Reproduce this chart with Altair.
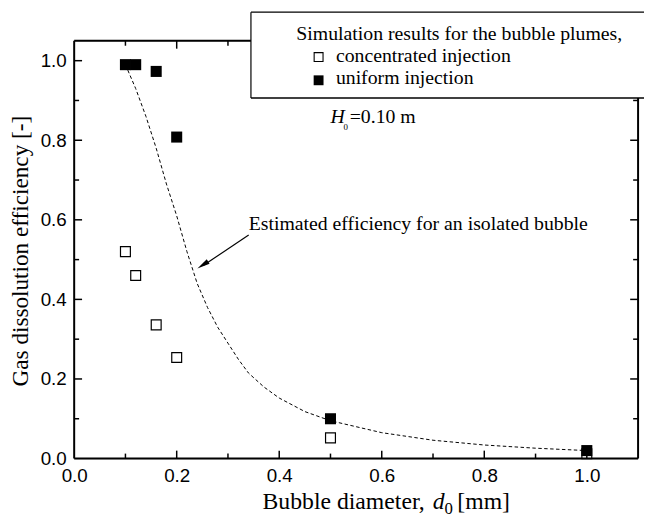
import altair as alt
import pandas as pd

# ---------------- data ----------------
d_conc = [0.10, 0.12, 0.16, 0.20, 0.50, 1.00]
eff_conc = [0.52, 0.46, 0.336, 0.254, 0.052, 0.012]

d_unif = [0.10, 0.12, 0.16, 0.20, 0.50, 1.00]
eff_unif = [0.99, 0.99, 0.973, 0.808, 0.100, 0.020]

d_curve = [0.10, 0.12, 0.14, 0.16, 0.18, 0.20, 0.22, 0.24, 0.26, 0.28, 0.30,
           0.32, 0.34, 0.37, 0.40, 0.45, 0.50, 0.60, 0.70, 0.80, 0.90, 1.00]
eff_curve = [0.99, 0.93, 0.86, 0.78, 0.69, 0.61, 0.52, 0.44, 0.38, 0.33, 0.29,
             0.25, 0.215, 0.18, 0.152, 0.118, 0.095, 0.065, 0.046, 0.034, 0.026, 0.020]

x_label_values = [0.0, 0.2, 0.4, 0.6, 0.8, 1.0]
y_label_values = [0.0, 0.2, 0.4, 0.6, 0.8, 1.0]
x_major = [0.2, 0.4, 0.6, 0.8, 1.0]
x_minor = [0.1, 0.3, 0.5, 0.7, 0.9]
y_major = [0.2, 0.4, 0.6, 0.8, 1.0]
y_minor = [0.1, 0.3, 0.5, 0.7, 0.9]

x_title = "Bubble diameter,"
y_title = "Gas dissolution efficiency [-]"
legend_head = "Simulation results for the bubble plumes,"
legend_conc = "concentrated injection"
legend_unif = "uniform injection"
annot_text = "Estimated efficiency for an isolated bubble"
annot_pos = (0.3404, 0.5746)
arrow_from = (0.3404, 0.562)
arrow_to = (0.2404, 0.4776)
h0_pos = (0.500, 0.8433)

# ---------------- layout ----------------
W, H = 571, 423
SERIF = "Liberation Serif"
SANS = "Liberation Sans"

xs = alt.Scale(domain=[0, 1.1], nice=False, zero=False)
ys = alt.Scale(domain=[0, 1.05], nice=False, zero=False)

one = pd.DataFrame({"k": [0]})

x_axis = alt.Axis(values=x_label_values, format=".1f", ticks=False, tickSize=0, domain=False,
                  grid=False, labelFont=SANS, labelFontSize=19, labelColor="black",
                  labelPadding=8, labelFlush=False, title=None)
y_axis = alt.Axis(values=y_label_values, format=".1f", ticks=False, tickSize=0, domain=False,
                  grid=False, labelFont=SANS, labelFontSize=19, labelColor="black",
                  labelPadding=8, labelFlush=False, title=None)

# curve (carries the axes)
curve_df = pd.DataFrame({"d": d_curve, "e": eff_curve})
curve = alt.Chart(curve_df).mark_line(color="black", strokeWidth=1, strokeDash=[3.5, 2.5]).encode(
    x=alt.X("d:Q", scale=xs, axis=x_axis),
    y=alt.Y("e:Q", scale=ys, axis=y_axis),
    order="d:Q",
)

# frame
def rule_px(w=2, **enc):
    return alt.Chart(one).mark_rule(color="black", strokeWidth=w).encode(**enc)

frame = [
    rule_px(x=alt.value(0), x2=alt.value(W), y=alt.value(0)),
    rule_px(x=alt.value(0), x2=alt.value(W), y=alt.value(H)),
    rule_px(x=alt.value(0), y=alt.value(0), y2=alt.value(H)),
    rule_px(x=alt.value(W), y=alt.value(0), y2=alt.value(H)),
]

# inward ticks
def xticks(vals, ln):
    df = pd.DataFrame({"v": vals})
    b = alt.Chart(df).mark_rule(color="black", strokeWidth=1.5).encode(
        x=alt.X("v:Q", scale=xs), y=alt.value(H), y2=alt.value(H - ln))
    t = alt.Chart(df).mark_rule(color="black", strokeWidth=1.5).encode(
        x=alt.X("v:Q", scale=xs), y=alt.value(0), y2=alt.value(ln))
    return [b, t]

def yticks(vals, ln):
    df = pd.DataFrame({"v": vals})
    l = alt.Chart(df).mark_rule(color="black", strokeWidth=1.5).encode(
        y=alt.Y("v:Q", scale=ys), x=alt.value(0), x2=alt.value(ln))
    r = alt.Chart(df).mark_rule(color="black", strokeWidth=1.5).encode(
        y=alt.Y("v:Q", scale=ys), x=alt.value(W), x2=alt.value(W - ln))
    return [l, r]

ticks = xticks(x_major, 8) + xticks(x_minor, 5) + yticks(y_major, 8) + yticks(y_minor, 5)

# data points
conc_df = pd.DataFrame({"d": d_conc, "e": eff_conc})
unif_df = pd.DataFrame({"d": d_unif, "e": eff_unif})
conc = alt.Chart(conc_df).mark_point(shape="square", filled=False, size=100, strokeWidth=1.2,
                                     color="black", opacity=1).encode(
    x=alt.X("d:Q", scale=xs), y=alt.Y("e:Q", scale=ys))
unif = alt.Chart(unif_df).mark_point(shape="square", filled=True, size=125,
                                     color="black", opacity=1).encode(
    x=alt.X("d:Q", scale=xs), y=alt.Y("e:Q", scale=ys))

# arrow
arrow_line = alt.Chart(one).mark_rule(color="black", strokeWidth=1.2).encode(
    x=alt.datum(arrow_from[0], scale=xs), y=alt.datum(arrow_from[1], scale=ys),
    x2=alt.datum(arrow_to[0] + 0.012), y2=alt.datum(arrow_to[1] + 0.008))
arrow_head = alt.Chart(one).mark_point(shape="M0,0 L0.4,2 L-0.4,2 Z", filled=True, size=169,
                                       angle=236.8, color="black", opacity=1).encode(
    x=alt.datum(arrow_to[0], scale=xs), y=alt.datum(arrow_to[1], scale=ys))

# text helpers
def txt_data(text, x, y, size, align="left", baseline="alphabetic", font=SERIF, style="normal", angle=0):
    return alt.Chart(one).mark_text(text=text, font=font, fontSize=size, fontStyle=style, align=align,
                                    baseline=baseline, color="black", angle=angle).encode(
        x=alt.datum(x, scale=xs), y=alt.datum(y, scale=ys))

def txt_px(text, x, y, size, align="left", baseline="alphabetic", font=SERIF, style="normal", angle=0):
    return alt.Chart(one).mark_text(text=text, font=font, fontSize=size, fontStyle=style, align=align,
                                    baseline=baseline, color="black", angle=angle).encode(
        x=alt.value(x), y=alt.value(y))

annot = txt_data(annot_text, annot_pos[0], annot_pos[1], 20)
h0 = [
    txt_data("H", h0_pos[0], h0_pos[1], 20, style="italic"),
    txt_data("0", h0_pos[0] + 0.0255, h0_pos[1] - 0.0174, 9),
    txt_data("=0.10 m", h0_pos[0] + 0.0375, h0_pos[1], 20),
]

titles = [
    txt_px(x_title, 355, 474, 24, align="right"),
    txt_px("d", 363, 474, 24, style="italic"),
    txt_px("0", 375, 479, 17),
    txt_px("[mm]", 388, 474, 24),
    txt_px(y_title, -47, 213, 23.5, align="center", angle=270),
]

# legend box (open on the right: it runs off the page edge)
BX0, BX1, BY0, BY1 = 179, 577, -29, 58
box_fill = alt.Chart(one).mark_rect(fill="white", strokeWidth=0).encode(
    x=alt.value(BX0), x2=alt.value(BX1), y=alt.value(BY0), y2=alt.value(BY1))
box_lines = [
    rule_px(1.2, x=alt.value(BX0), x2=alt.value(BX1), y=alt.value(BY0)),
    rule_px(1.6, x=alt.value(BX0), x2=alt.value(BX1), y=alt.value(BY1)),
    rule_px(1.2, x=alt.value(BX0), y=alt.value(BY0), y2=alt.value(BY1)),
]
leg_open = alt.Chart(one).mark_point(shape="square", filled=False, size=81, strokeWidth=1.1,
                                     color="black", opacity=1).encode(
    x=alt.value(247.5), y=alt.value(16.5))
leg_fill = alt.Chart(one).mark_point(shape="square", filled=True, size=100,
                                     color="black", opacity=1).encode(
    x=alt.value(247.5), y=alt.value(40))
legend = [
    box_fill, *box_lines,
    txt_px(legend_head, 225, -1, 20),
    leg_open,
    txt_px(legend_conc, 265, 21.5, 20),
    leg_fill,
    txt_px(legend_unif, 265, 44, 20),
]

chart = alt.layer(
    curve, *frame, *ticks, arrow_line, arrow_head, conc, unif, annot, *h0, *titles, *legend
).properties(
    width=W, height=H,
    autosize=alt.AutoSizeParams(type="none"),
    padding={"left": 67, "top": 30, "right": 6, "bottom": 56},
).configure_view(stroke=None).configure(background="white")

chart.save("out.html", embed_options={"renderer": "svg", "actions": False})
